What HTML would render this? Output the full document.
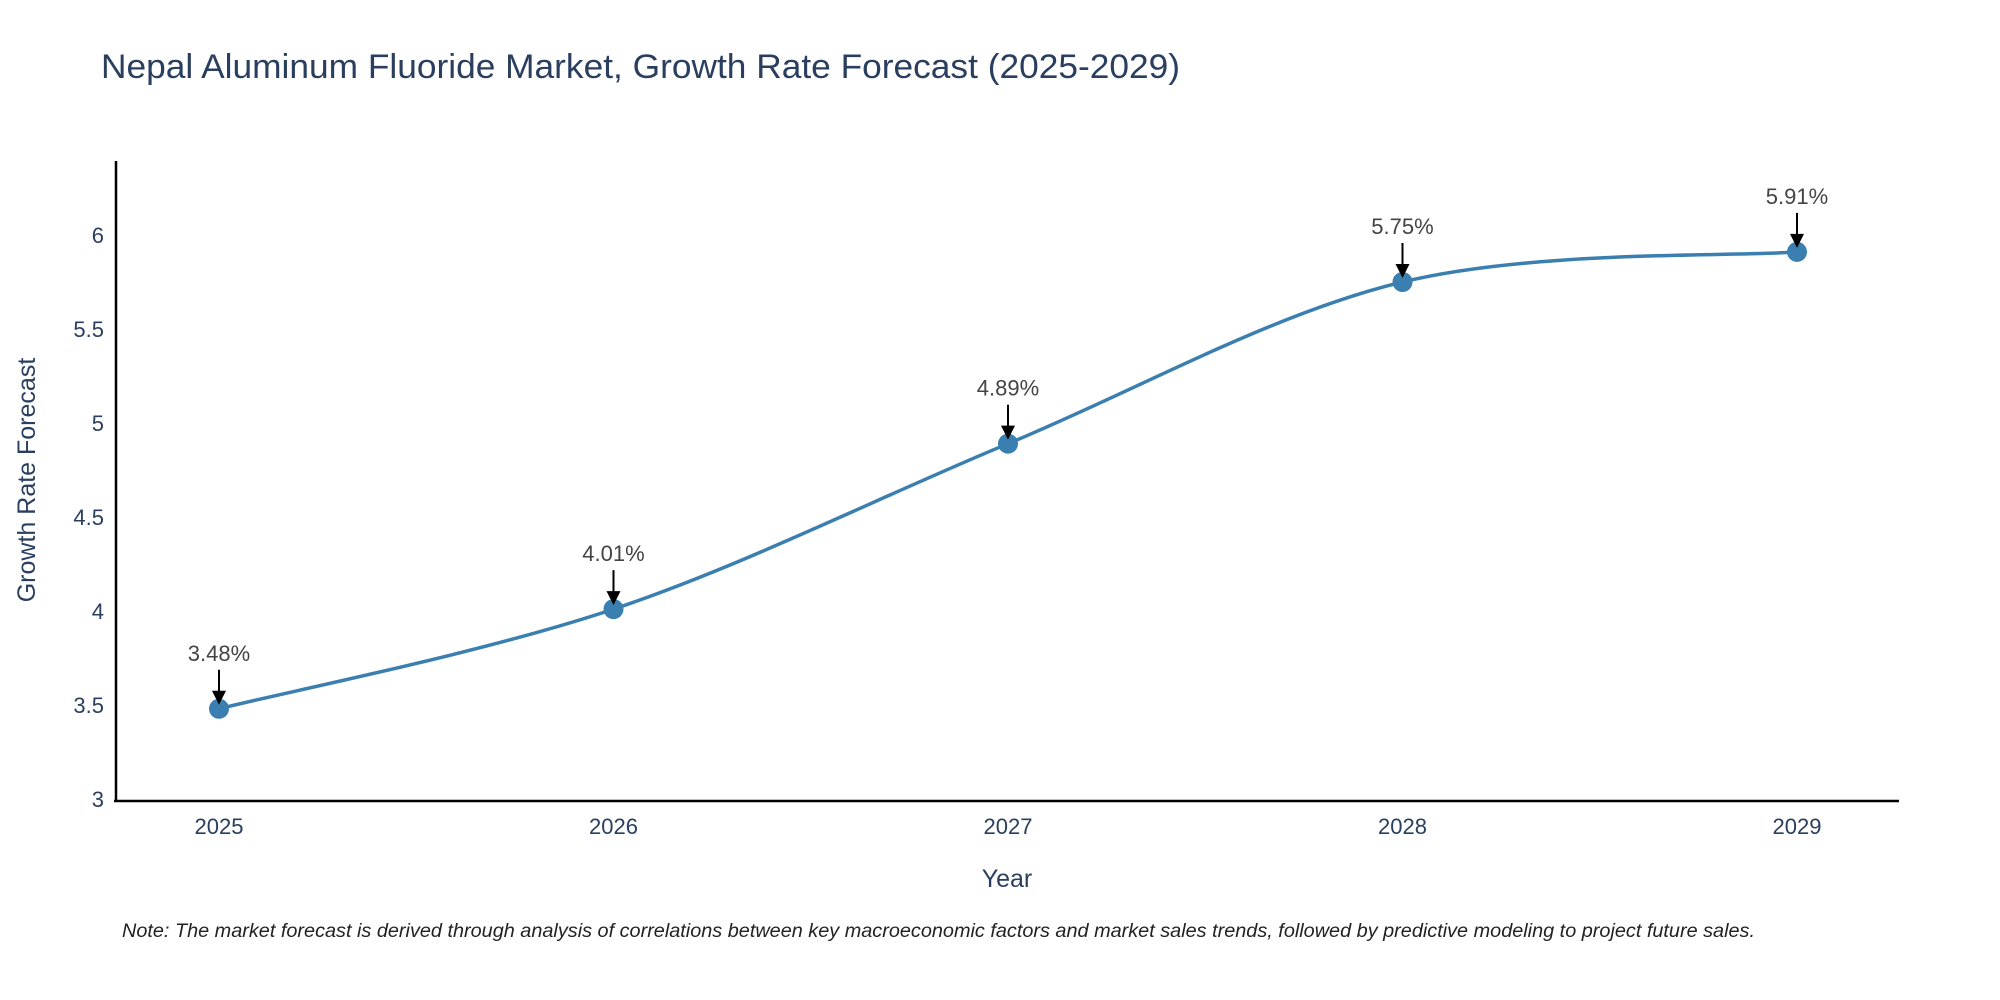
<!DOCTYPE html>
<html><head><meta charset="utf-8"><style>
body{margin:0;background:#fff;}
svg{display:block;font-family:"Liberation Sans",sans-serif;}
</style></head><body>
<svg width="2000" height="1000" id="c">
<text x="101" y="78" font-size="34" fill="#2a3f5f" textLength="1079" lengthAdjust="spacingAndGlyphs">Nepal Aluminum Fluoride Market, Growth Rate Forecast (2025-2029)</text>
<g id="yt"></g><g id="xt"></g>
<line x1="116" y1="161" x2="116" y2="802" stroke="#000" stroke-width="2.5"/>
<line x1="114" y1="801" x2="1899" y2="801" stroke="#000" stroke-width="2.5"/>
<path id="line" fill="none" stroke="#3a7fb0" stroke-width="3.5"/>
<g id="pts"></g>
<text x="1007" y="887" font-size="25" fill="#2a3f5f" text-anchor="middle">Year</text>
<text transform="translate(35,480) rotate(-90)" font-size="25" fill="#2a3f5f" text-anchor="middle">Growth Rate Forecast</text>
<text x="122" y="937" font-size="19" font-style="italic" fill="#222" textLength="1633" lengthAdjust="spacingAndGlyphs">Note: The market forecast is derived through analysis of correlations between key macroeconomic factors and market sales trends, followed by predictive modeling to project future sales.</text>
</svg>
<script>
const years=[2025,2026,2027,2028,2029];
const values=[3.48,4.01,4.89,5.75,5.91];
const labels=["3.48%","4.01%","4.89%","5.75%","5.91%"];
const yTicks=[3,3.5,4,4.5,5,5.5,6];
const NS="http://www.w3.org/2000/svg";
const xs=v=>219+(v-2025)*(1797-219)/4;
const ys=v=>799-(v-3)*(799-235)/3;
function mk(t,a,p){const e=document.createElementNS(NS,t);for(const k in a)e.setAttribute(k,a[k]);p.appendChild(e);return e;}
const yt=document.getElementById('yt');
yTicks.forEach(t=>{const e=mk('text',{x:104,y:ys(t)+8,'font-size':22,fill:'#2a3f5f','text-anchor':'end'},yt);


e.textContent=t;});
const xt=document.getElementById('xt');
years.forEach(y=>{const e=mk('text',{x:xs(y),y:834,'font-size':22,fill:'#2a3f5f','text-anchor':'middle'},xt);


e.textContent=y;});
const P=years.map((y,i)=>[xs(y),ys(values[i])]);
let d=`M${P[0][0]},${P[0][1]}`;const s=0.5/3*2;
for(let i=0;i<P.length-1;i++){const p0=P[Math.max(0,i-1)],p1=P[i],p2=P[i+1],p3=P[Math.min(P.length-1,i+2)];
const c1=[p1[0]+(p2[0]-p0[0])*s/2,p1[1]+(p2[1]-p0[1])*s/2],c2=[p2[0]-(p3[0]-p1[0])*s/2,p2[1]-(p3[1]-p1[1])*s/2];
d+=` C${c1[0]},${c1[1]} ${c2[0]},${c2[1]} ${p2[0]},${p2[1]}`;}
document.getElementById('line').setAttribute('d',d);
const g=document.getElementById('pts');
P.forEach((p,i)=>{const c=mk('circle',{cx:p[0],cy:p[1],r:10,fill:'#3a7fb0'},g);


const l=mk('line',{x1:p[0],y1:p[1]-39,x2:p[0],y2:p[1]-14,stroke:'#000','stroke-width':2},g);


const h=mk('polygon',{points:`${p[0]-7},${p[1]-18} ${p[0]+7},${p[1]-18} ${p[0]},${p[1]-4}`,fill:'#000'},g);


const t=mk('text',{x:p[0],y:p[1]-48,'font-size':22,fill:'#444','text-anchor':'middle'},g);


t.textContent=labels[i];});
</script>
</body></html>
